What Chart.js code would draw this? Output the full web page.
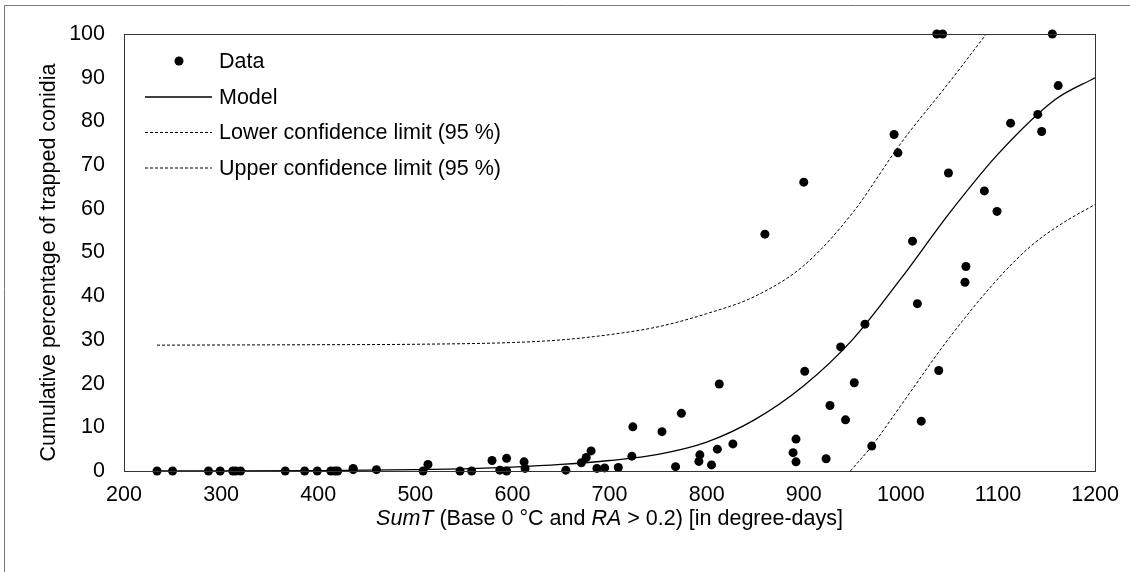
<!DOCTYPE html>
<html>
<head>
<meta charset="utf-8">
<script src="https://cdn.jsdelivr.net/npm/chart.js@4.4.1/dist/chart.umd.min.js"></script>
<style>
  body { margin: 0; background: #fff; }
  #wrap { position: relative; width: 1130px; height: 572px; }
</style>
</head>
<body>
<div id="wrap"><canvas id="chartArea" width="1130" height="572"></canvas></div>
<script>
// observed points
var dataX = [234, 250, 287, 299, 312, 315, 320, 366, 386, 399, 413, 417, 420, 436, 436, 460,
  508, 513, 546, 558, 579, 587, 594, 594, 612, 613, 655, 671, 676, 681, 687, 695, 709,
  723, 724, 754, 768, 774, 792, 793, 805, 811, 813, 827, 860, 889, 892, 892, 900, 901,
  923, 927, 938, 943, 952, 963, 970, 993, 997, 1012, 1017, 1021, 1037, 1039, 1043, 1049,
  1066, 1067, 1086, 1099, 1113, 1141, 1145, 1156, 1162]
var dataY = [0, 0, 0, 0, 0, 0, 0, 0, 0, 0, 0, 0, 0, 0.3, 0.6, 0.3,
  0, 1.5, 0, 0, 2.4, 0.2, 2.9, 0, 2.1, 0.6, 0.2, 1.9, 3.1, 4.6, 0.6, 0.7, 0.8,
  3.4, 10.1, 9.0, 1.0, 13.2, 2.2, 3.7, 1.4, 5.0, 19.9, 6.2, 54.2, 4.2, 7.3, 2.1, 66.1, 22.8,
  2.8, 15.0, 28.4, 11.7, 20.2, 33.6, 5.7, 77.0, 72.8, 52.6, 38.3, 11.4, 100, 23.0, 100, 68.2,
  43.2, 46.8, 64.1, 59.4, 79.6, 81.6, 77.7, 100, 88.2]

// fitted model
var modelX = [234, 300, 400, 500, 550, 600, 650, 700, 750, 800, 850, 900, 950, 1000, 1050, 1100, 1159, 1200]
var modelY = [0, 0.02, 0.1, 0.3, 0.5, 0.9, 1.5, 2.4, 3.8, 6.6, 11.8, 19.5, 30, 44, 59, 72.5, 85, 90]

// confidence limits
var lowerX = [948, 970, 1000, 1050, 1100, 1134, 1165, 1200]
var lowerY = [0, 5.7, 15, 30.5, 44, 51.5, 56.5, 61]
var upperX = [234, 400, 500, 600, 650, 700, 750, 800, 850, 900, 950, 1000, 1050, 1088]
var upperY = [28.8, 28.9, 29.0, 29.4, 30.0, 31.2, 33.0, 36.0, 40.0, 47.0, 59.0, 75.0, 89.0, 100]

var legendLabels = ['Data', 'Model', 'Lower confidence limit (95 %)', 'Upper confidence limit (95 %)']
var yTitle = 'Cumulative percentage of trapped conidia'
var xTitleParts = [['SumT', true], [' (Base 0 °C and ', false], ['RA', true], [' > 0.2) [in degree-days]', false]]

var FONT = '"Liberation Sans", Arial, sans-serif'
var FS = 21.5

function pts(xs, ys){
  var out = []
  for(var i = 0; i < xs.length; i++){
    out.push({x: xs[i], y: ys[i]})
  }
  return out
}

// plot border, outer frame, axis titles and legend
var decor = {
  id: 'decor',
  afterDraw: function(chart){
    var ctx = chart.ctx
    var a = chart.chartArea
    ctx.save()
    // outer chart frame (only top/left visible)
    ctx.strokeStyle = '#7a7a7a'
    ctx.lineWidth = 1
    ctx.beginPath()
    ctx.moveTo(4.5, 572); ctx.lineTo(4.5, 5.5); ctx.lineTo(1130, 5.5)
    ctx.stroke()
    // plot area border
    ctx.strokeStyle = '#333'
    ctx.strokeRect(Math.round(a.left) + 0.5, Math.round(a.top) + 0.5, Math.round(a.right - a.left), Math.round(a.bottom - a.top))

    ctx.fillStyle = '#000'
    // y title
    ctx.save()
    ctx.translate(55, 262.5)
    ctx.rotate(-Math.PI / 2)
    ctx.font = FS + 'px ' + FONT
    ctx.textAlign = 'center'
    ctx.textBaseline = 'alphabetic'
    ctx.fillText(yTitle, 0, 0)
    ctx.restore()

    // x title with italic parts
    var total = 0
    xTitleParts.forEach(function(p){
      ctx.font = (p[1] ? 'italic ' : '') + FS + 'px ' + FONT
      total += ctx.measureText(p[0]).width
    })
    var tx = (a.left + a.right) / 2 - total / 2
    ctx.textAlign = 'left'
    ctx.textBaseline = 'alphabetic'
    xTitleParts.forEach(function(p){
      ctx.font = (p[1] ? 'italic ' : '') + FS + 'px ' + FONT
      ctx.fillText(p[0], tx, 525)
      tx += ctx.measureText(p[0]).width
    })

    // legend
    var ds = chart.data.datasets
    for(var i = 0; i < legendLabels.length; i++){
      var base = 68 + 35.5 * i
      var cy = base - 7
      if(i == 0){
        ctx.beginPath()
        ctx.arc(179, cy, 4.5, 0, Math.PI * 2)
        ctx.fillStyle = '#000'
        ctx.fill()
      }else{
        ctx.beginPath()
        ctx.setLineDash(ds[i].borderDash || [])
        ctx.lineWidth = ds[i].borderWidth
        ctx.strokeStyle = '#000'
        ctx.moveTo(145, cy + 0.5)
        ctx.lineTo(212, cy + 0.5)
        ctx.stroke()
        ctx.setLineDash([])
      }
      ctx.fillStyle = '#000'
      ctx.font = FS + 'px ' + FONT
      ctx.textAlign = 'left'
      ctx.fillText(legendLabels[i], 219, base)
    }
    ctx.restore()
  }
}

var ctx = document.getElementById('chartArea').getContext('2d')
var myChart = new Chart(ctx, {
  type: 'scatter',
  data: {
    datasets: [
      {
        label: legendLabels[0],
        data: pts(dataX, dataY),
        pointRadius: 4.5,
        pointHoverRadius: 4.5,
        backgroundColor: '#000',
        borderWidth: 0,
        clip: false,
        order: 0
      },
      {
        label: legendLabels[1],
        data: pts(modelX, modelY),
        showLine: true,
        pointRadius: 0,
        borderColor: '#000',
        borderWidth: 1.3,
        cubicInterpolationMode: 'monotone',
        order: 1
      },
      {
        label: legendLabels[2],
        data: pts(lowerX, lowerY),
        showLine: true,
        pointRadius: 0,
        borderColor: '#000',
        borderWidth: 1,
        borderDash: [3, 2],
        cubicInterpolationMode: 'monotone',
        order: 2
      },
      {
        label: legendLabels[3],
        data: pts(upperX, upperY),
        showLine: true,
        pointRadius: 0,
        borderColor: '#000',
        borderWidth: 1,
        borderDash: [3, 2],
        cubicInterpolationMode: 'monotone',
        order: 3
      }
    ]
  },
  options: {
    responsive: false,
    animation: false,
    devicePixelRatio: 1,
    layout: { padding: { top: 34, right: 33, left: 0, bottom: 0 } },
    plugins: {
      legend: { display: false },
      tooltip: { enabled: false }
    },
    events: [],
    scales: {
      x: {
        type: 'linear',
        min: 200,
        max: 1200,
        afterFit: function(scale){ scale.height = 101 },
        grid: { display: false, drawTicks: false },
        border: { display: true, color: '#000', width: 1 },
        ticks: {
          stepSize: 100,
          padding: 11,
          color: '#000',
          font: { family: FONT, size: FS },
          callback: function(v){ return String(v) }
        }
      },
      y: {
        type: 'linear',
        min: 0,
        max: 100,
        afterFit: function(scale){ scale.width = 124 },
        grid: { display: false, drawTicks: false },
        border: { display: true, color: '#000', width: 1 },
        ticks: {
          stepSize: 10,
          padding: 19,
          color: '#000',
          font: { family: FONT, size: FS },
          callback: function(v){ return String(v) }
        }
      }
    }
  },
  plugins: [decor]
})
</script>
</body>
</html>
